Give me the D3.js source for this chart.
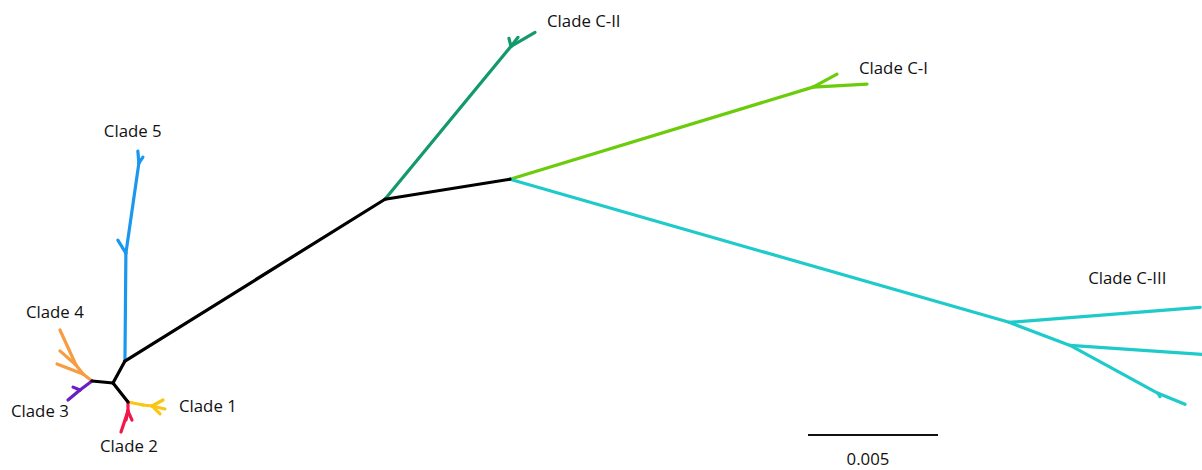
<!DOCTYPE html>
<html lang="en">
<head>
<meta charset="UTF-8">
<title>Unrooted tree</title>
<script src="https://d3js.org/d3.v7.min.js"></script>
<style>
    body { margin: 0; background: #fff; }
    .label { font-family: "Open Sans", Arial, sans-serif; font-size: 16.8px; fill: #111; }
    .branch { fill: none; stroke-width: 3.2; stroke-linecap: round; }
</style>
</head>
<body>
<svg width="1202" height="470"></svg>
<script>
// branches: parent, child, length (subst./site), angle (deg, counter-clockwise from east)
const backbone = [
    ["A", "B", 0.00096, 61.4],
    ["A", "E", 0.00081, 174.6],
    ["A", "F", 0.00093, -51.7],
    ["B", "C", 0.01178, 31.9],
    ["C", "D", 0.00487, 9.1]
]
const clade5 = [
    ["B", "b1", 0.00415, 89.5],
    ["b1", "b5a", 0.00059, 121.6],
    ["b1", "b2", 0.00350, 81.8],
    ["b2", "b5b", 0.00046, 94.8],
    ["b2", "b5c", 0.00028, 56.3]
]
const cladeCII = [
    ["C", "g1", 0.00762, 50.5],
    ["g1", "g2a", 0.00107, 30.3],
    ["g1", "g2b", 0.00032, 104],
    ["g1", "g2c", 0.00044, 52.1]
]
const cladeCI = [
    ["D", "l1", 0.01218, 16.9],
    ["l1", "l1a", 0.00105, 28.4],
    ["l1", "l1b", 0.00208, 3.2]
]
const cladeCIII = [
    ["D", "c1", 0.01997, -16.0],
    ["c1", "c1a", 0.00737, 4.5],
    ["c1", "c2", 0.00251, -20.7],
    ["c2", "c2a", 0.00509, -3.9],
    ["c2", "c3", 0.00385, -28.6],
    ["c3", "c3a", 0.00112, -22.2],
    ["c3", "c3b", 0.00015, -60]
]
const clade4 = [
    ["E", "o1", 0.00044, 142.1],
    ["o1", "o1a", 0.00107, 159],
    ["o1", "o2", 0.00044, 127.9],
    ["o2", "o2a", 0.00082, 138.8],
    ["o2", "o2b", 0.00148, 114.6]
]
const clade3 = [
    ["E", "p1", 0.00058, -143.1],
    ["p1", "p1a", 0.00060, -140.2],
    ["p1", "p1b", 0.00029, 156.8]
]
const clade1 = [
    ["F", "y1", 0.00059, -11.3],
    ["y1", "y2", 0.00035, -6.3],
    ["y2", "y2a", 0.00048, 28.6],
    ["y2", "y2b", 0.00051, -13],
    ["y2", "y2c", 0.00043, -45]
]
const clade2 = [
    ["F", "r1", 0.00035, -90],
    ["r1", "r1a", 0.00085, -108.4],
    ["r1", "r1b", 0.00038, -66],
    ["r1", "r1c", 0.00035, -102.5]
]
const cladeNames = ["Clade C-II", "Clade C-I", "Clade 5", "Clade C-III", "Clade 4", "Clade 3", "Clade 1", "Clade 2"]
const scaleBarValue = 0.005

// colours per group
const groups = [
    {name: "backbone", data: backbone, color: "#000000"},
    {name: "Clade 5", data: clade5, color: "#1a97ee"},
    {name: "Clade C-II", data: cladeCII, color: "#13996a"},
    {name: "Clade C-I", data: cladeCI, color: "#6acc0a"},
    {name: "Clade C-III", data: cladeCIII, color: "#1fcaca"},
    {name: "Clade 4", data: clade4, color: "#f89c42"},
    {name: "Clade 3", data: clade3, color: "#6a1fc4"},
    {name: "Clade 1", data: clade1, color: "#fbc613"},
    {name: "Clade 2", data: clade2, color: "#f2164a"}
]

// where each label sits relative to a tip
const labelAnchor = {
    "Clade C-II": ["g2a", 12, -5],
    "Clade C-I": ["l1b", -8, -10],
    "Clade 5": ["b5b", -34, -14],
    "Clade C-III": ["c1a", -112, -23],
    "Clade 4": ["o2b", -34, -12],
    "Clade 3": ["p1a", -57, 17],
    "Clade 1": ["y2b", 14, 3],
    "Clade 2": ["r1a", -21, 20]
}

// walk the tree from the root, accumulating positions in tree units
let allBranches = []
groups.forEach(g => g.data.forEach(b => allBranches.push({
    parent: b[0], child: b[1], len: b[2], angle: b[3], color: g.color, group: g.name
})))

let pos = {A: {x: 0, y: 0}}
let queue = ["A"]
while (queue.length) {
    let id = queue.shift()
    allBranches.filter(b => b.parent === id).forEach(b => {
        let a = b.angle * Math.PI / 180
        pos[b.child] = {x: pos[id].x + b.len * Math.cos(a), y: pos[id].y + b.len * Math.sin(a)}
        queue.push(b.child)
    })
}

// 0.005 units = 130 px
let x = d3.scaleLinear().domain([0, 0.005]).range([113, 243])
let y = d3.scaleLinear().domain([0, 0.005]).range([383, 253])

let svg = d3.select("svg")

svg.append("g")
    .selectAll("line")
    .data(allBranches.filter(b => b.group !== "backbone").concat(allBranches.filter(b => b.group === "backbone")))
    .enter()
    .append("line")
    .attr("class", "branch")
    .attr("stroke", d => d.color)
    .attr("x1", d => x(pos[d.parent].x))
    .attr("y1", d => y(pos[d.parent].y))
    .attr("x2", d => x(pos[d.child].x))
    .attr("y2", d => y(pos[d.child].y))

svg.append("g")
    .selectAll("text")
    .data(cladeNames)
    .enter()
    .append("text")
    .attr("class", "label")
    .attr("x", d => x(pos[labelAnchor[d][0]].x) + labelAnchor[d][1])
    .attr("y", d => y(pos[labelAnchor[d][0]].y) + labelAnchor[d][2])
    .text(d => d)

// scale bar
let barLeft = 808, barY = 435
let barW = x(scaleBarValue) - x(0)
svg.append("line")
    .attr("x1", barLeft).attr("x2", barLeft + barW)
    .attr("y1", barY).attr("y2", barY)
    .attr("stroke", "#111").attr("stroke-width", 2)
svg.append("text")
    .attr("class", "label")
    .attr("x", barLeft + barW / 2 - 5)
    .attr("y", barY + 30)
    .attr("text-anchor", "middle")
    .text(scaleBarValue)
</script>
</body>
</html>
